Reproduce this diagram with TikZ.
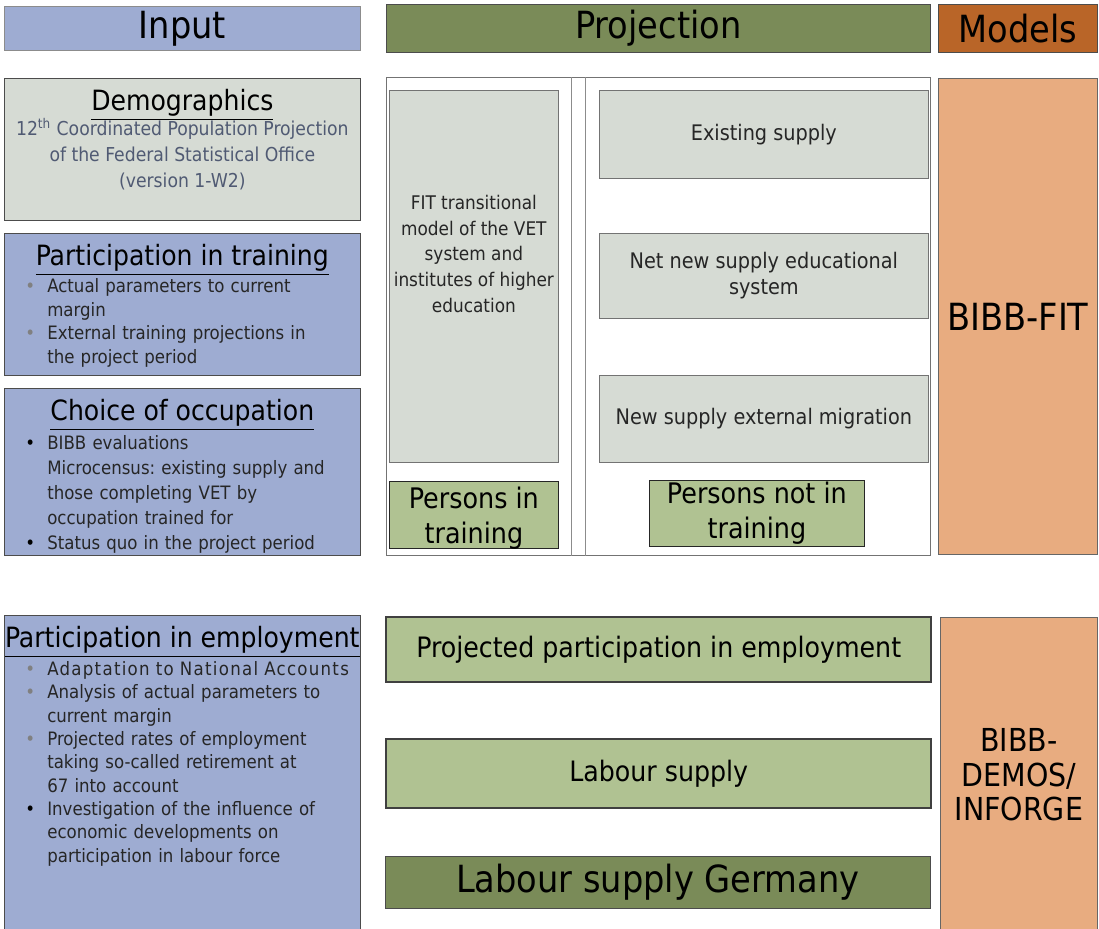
\documentclass[tikz,border=0pt]{standalone}
\usepackage{fontspec}
\setmainfont{DejaVu Sans Condensed}
\usepackage{tikz}
\usetikzlibrary{positioning}
\definecolor{inblue}{RGB}{158,172,210}
\definecolor{demgrey}{RGB}{214,219,212}
\definecolor{olive}{RGB}{122,139,88}
\definecolor{lgreen}{RGB}{176,194,146}
\definecolor{rust}{RGB}{185,101,40}
\definecolor{salmon}{RGB}{232,172,128}
\definecolor{bodyblue}{RGB}{80,90,115}
\newcommand{\bul}[2][black]{\noindent\hangindent=12.5pt\hangafter=1\makebox[12.5pt][l]{\textcolor{#1}{\textbullet}}{#2}\par}
\newcommand{\nobul}[1]{\noindent\hangindent=12.5pt\hangafter=0 {#1}\par}
\frenchspacing

\begin{document}
\begin{tikzpicture}[
  box/.style={draw=#1, inner sep=0pt, anchor=north west},
  box/.default=black!70,
  hd/.style={font=\fontsize{21.3}{24}\selectfont},
  ttl/.style={inner sep=0pt, font=\fontsize{15.9}{19}\selectfont},
  items/.style={inner sep=0pt, anchor=north west, text width=6.7cm, align=left, text=black!85, font=\fontsize{10.5}{13.5}\selectfont},
  greybox/.style={box=black!55, fill=demgrey, text=black!85, align=center, font=\fontsize{12.2}{14.8}\selectfont},
  greenbox/.style={box=black!85, fill=lgreen, align=center, font=\fontsize{16.1}{20}\selectfont},
  barbox/.style={box=black!75, line width=1.4pt, fill=lgreen, font=\fontsize{16}{19}\selectfont}
]
\useasboundingbox (0,0) rectangle (21.98,-18.56);

\node[box=black!45, fill=inblue, hd, minimum width=7.12cm, minimum height=.88cm] (input) at (.08,-.12) {Input};
\node[box, fill=olive, hd, minimum width=10.88cm, minimum height=.96cm] (proj) at (7.72,-.08) {Projection};
\node[box, fill=rust, hd, minimum width=3.18cm, minimum height=.96cm] (models) at (18.76,-.08) {Models};

\node[box, fill=demgrey, minimum width=7.12cm, minimum height=2.84cm] (demog) at (.08,-1.56) {};
\node[ttl, below=.22cm of demog.north] (demogt) {\underline{Demographics}};
\node[inner sep=0pt, below=.80cm of demog.north, text=bodyblue, align=center, font=\fontsize{10.9}{14.7}\selectfont] (demogb)
  {12\textsuperscript{th} Coordinated Population Projection\\of the Federal Statistical Office\\(version 1-W2)};

\node[box, fill=inblue, minimum width=7.12cm, minimum height=2.84cm] (train) at (.08,-4.66) {};
\node[ttl, below=.22cm of train.north] (traint) {\underline{Participation in training}};
\node[items, below right=.90cm and .42cm of train.north west] (trainb)
  {\bul[gray]{Actual parameters to current\newline margin}\bul[gray]{External training projections in\newline the project period}};

\node[box, fill=inblue, minimum width=7.12cm, minimum height=3.34cm] (choice) at (.08,-7.76) {};
\node[ttl, below=.22cm of choice.north] (choicet) {\underline{Choice of occupation}};
\node[items, below right=.94cm and .42cm of choice.north west, font=\fontsize{10.5}{14.2}\selectfont] (choiceb)
  {\bul{BIBB evaluations}\nobul{Microcensus: existing supply and\newline those completing VET by\newline occupation trained for}\bul{Status quo in the project period}};

\node[box, fill=inblue, minimum width=7.12cm, minimum height=6.40cm] (empl) at (.08,-12.30) {};
\node[ttl, below=.22cm of empl.north] (emplt) {\underline{Participation in employment}};
\node[items, below right=.92cm and .42cm of empl.north west, font=\fontsize{10.5}{13.3}\selectfont] (emplb)
  {\bul[gray]{\addfontfeature{LetterSpace=7}Adaptation to National Accounts}\bul[gray]{Analysis of actual parameters to\newline current margin}\bul[gray]{Projected rates of employment\newline taking so-called retirement at\newline 67 into account}\bul{Investigation of the influence of\newline economic developments on\newline participation in labour force}};

\node[box=black!55, minimum width=10.88cm, minimum height=9.56cm] (frame) at (7.72,-1.54) {};
\draw[black!45] ([xshift=3.70cm]frame.north west) -- ([xshift=3.70cm]frame.south west);
\draw[black!45] ([xshift=3.98cm]frame.north west) -- ([xshift=3.98cm]frame.south west);

\node[greybox, minimum width=3.38cm, minimum height=7.44cm] (fit) at (7.78,-1.80) {};
\node[inner sep=0pt, below=2.10cm of fit.north, align=center, text=black!85, font=\fontsize{10.7}{14.6}\selectfont] (fitt)
  {FIT transitional\\model of the VET\\system and\\institutes of higher\\education};
\node[greenbox, text depth=0pt, minimum width=3.38cm, minimum height=1.34cm] (pin) at (7.78,-9.62) {Persons in\\training};

\node[greybox, minimum width=6.58cm, minimum height=1.76cm] (exist) at (11.98,-1.80) {Existing supply};
\node[greybox, minimum width=6.58cm, minimum height=1.70cm] (netnew) at (11.98,-4.66) {Net new supply educational\\system};
\node[greybox, minimum width=6.58cm, minimum height=1.74cm] (migr) at (11.98,-7.50) {New supply external migration};
\node[greenbox, minimum width=4.30cm, minimum height=1.32cm] (pnot) at (12.98,-9.60) {Persons not in\\training};

\node[box=black!60, fill=salmon, hd, minimum width=3.18cm, minimum height=9.52cm] (bfit) at (18.76,-1.56) {BIBB-FIT};
\node[box=black!60, fill=salmon, align=center, minimum width=3.14cm, minimum height=6.30cm, font=\fontsize{18}{19.6}\selectfont] (bdem) at (18.80,-12.34) {BIBB-\\DEMOS/\\INFORGE};

\node[barbox, minimum width=10.9cm, minimum height=1.30cm] (ppe) at (7.70,-12.32) {Projected participation in employment};
\node[barbox, minimum width=10.9cm, minimum height=1.38cm] (ls) at (7.70,-14.76) {Labour supply};
\node[box, fill=olive, hd, minimum width=10.9cm, minimum height=1.04cm] (lsg) at (7.70,-17.12) {Labour supply Germany};
\end{tikzpicture}
\end{document}
